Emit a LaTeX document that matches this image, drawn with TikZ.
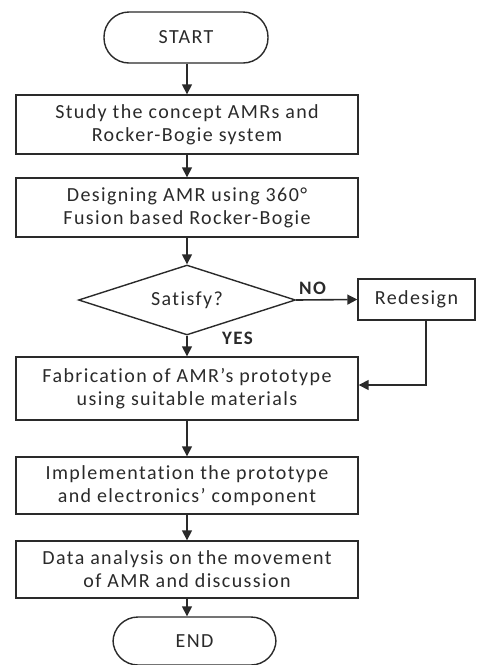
\documentclass[tikz,border=0pt]{standalone}
\usepackage{fontspec}
\setmainfont{Carlito}[LetterSpace=7,Ligatures=NoCommon]
\usetikzlibrary{shapes.geometric,arrows.meta}
\definecolor{ln}{HTML}{2A2A2A}
\definecolor{tx}{HTML}{2A2A2A}
\begin{document}
\begin{tikzpicture}[x=1pt,y=-1pt,
  every node/.style={font=\fontsize{20}{23}\selectfont, text=tx},
  procbox/.style={draw=ln, line width=1.4pt, rectangle, minimum width=342pt, inner sep=0pt, align=center},
  termbox/.style={draw=ln, line width=1.4pt, rectangle, rounded corners=25pt, inner sep=0pt},
  decbox/.style={draw=ln, line width=1.4pt, diamond, aspect=3.1, minimum width=217pt, minimum height=70pt, inner sep=0pt},
  arr/.style={draw=ln, line width=1.6pt, -{Triangle[width=10pt,length=10pt]}},
  lbl/.style={font=\fontsize{19}{23}\bfseries\selectfont, inner sep=0pt}
]
\useasboundingbox (0,0) rectangle (478,665);
\node[termbox, minimum width=164pt, minimum height=51pt] (start) at (186,37.5) {START};
\node[procbox, minimum height=59pt] (b1) at (187,124.5) {Study the concept AMRs and\\Rocker-Bogie system};
\node[procbox, minimum height=59pt] (b2) at (187,207.5) {Designing AMR using 360°\\Fusion based Rocker-Bogie};
\node[decbox] (dec) at (187,300) {Satisfy?};
\node[draw=ln, line width=1.4pt, rectangle, minimum width=117pt, minimum height=41pt, inner sep=0pt] (re) at (416.5,299.5) {Redesign};
\node[procbox, minimum height=63pt] (b3) at (187,388.5) {Fabrication of AMR’s prototype\\using suitable materials};
\node[procbox, minimum height=57pt] (b4) at (187,485.5) {Implementation the prototype\\and electronics’ component};
\node[procbox, minimum height=57pt] (b5) at (187,569.5) {Data analysis on the movement\\of AMR and discussion};
\node[termbox, minimum width=163pt, minimum height=48pt] (endn) at (194.5,641) {END};
\coordinate (rc) at (426,385);
\draw[arr] (start.south -| b1.north) -- (b1.north);
\draw[arr] (b1) -- (b2);
\draw[arr] (b2) -- (dec);
\draw[arr] (dec.east) -- (re.west);
\draw[arr] (dec.south) -- (b3.north);
\draw[arr] (b3) -- (b4);
\draw[arr] (b4) -- (b5);
\draw[arr] (b5.south) -- (b5.south |- endn.north);
\draw[arr] (re.south -| rc) -- (rc) -- (rc -| b3.east);
\node[lbl, anchor=south west] (no) at (299,295) {NO};
\node[lbl, anchor=north west] (yes) at (222,332) {YES};
\end{tikzpicture}
\end{document}
